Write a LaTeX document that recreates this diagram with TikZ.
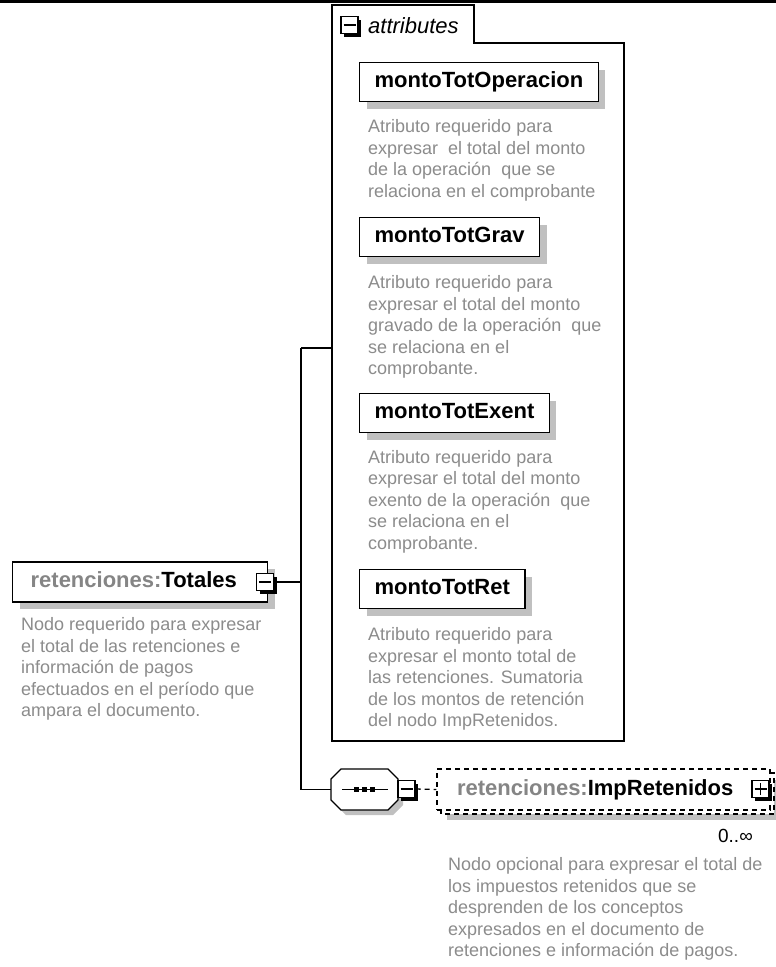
\documentclass[tikz,border=0pt]{standalone}
\usepackage{fontspec}
\setmainfont{Liberation Sans}
\usetikzlibrary{shadows,calc}
\definecolor{prefixgray}{HTML}{858585}
\definecolor{descgray}{HTML}{8C8C8C}
\definecolor{shadowgray}{HTML}{C0C0C0}
\tikzset{
  conn/.style={line width=1.3pt, draw=black},
  dconn/.style={line width=1.3pt, draw=black, dash pattern=on 5pt off 4pt},
  namefont/.style={font=\bfseries\fontsize{22}{26}\selectfont},
  ebox/.style={rectangle, draw=black, line width=1.3pt, fill=white, minimum height=39pt,
     inner xsep=15pt, inner ysep=0pt, text height=16pt, text depth=4.6pt, namefont, text=black,
     drop shadow={shadow xshift=7pt, shadow yshift=-7pt, fill=shadowgray, opacity=1}},
  desc/.style={font=\fontsize{18}{21.5}\selectfont, text=descgray, align=left, anchor=north west, inner sep=0pt},
  iconbox/.style={rectangle, draw=black, line width=1.3pt, fill=white, minimum size=17pt, inner sep=0pt,
     drop shadow={shadow xshift=3pt, shadow yshift=-3pt, fill=black, opacity=1}},
  minusicon/.style={iconbox, path picture={\draw[line width=1.3pt] ([xshift=-6pt]path picture bounding box.center) -- ([xshift=6pt]path picture bounding box.center);}},
  plusicon/.style={iconbox, path picture={\draw[line width=1.3pt] ([xshift=-6pt]path picture bounding box.center) -- ([xshift=6pt]path picture bounding box.center) ([yshift=-6pt]path picture bounding box.center) -- ([yshift=6pt]path picture bounding box.center);}},
  seqarea/.style={rectangle, minimum width=67pt, minimum height=41pt, inner sep=0pt},
}
\begin{document}
\begin{tikzpicture}[x=1pt,y=-1pt]
\useasboundingbox (0,0) rectangle (776,967);
\fill[white] (0,0) rectangle (776,967);
\fill[black] (0,0) rectangle (776,2.6);

% attributes container
\draw[conn] (332,741) -- (332,5) -- (474,5) -- (474,43) -- (624,43) -- (624,741) -- cycle;
\node[minusicon] (attricon) at (349.5,25) {};
\node[font=\itshape\fontsize{22}{26}\selectfont, anchor=base west, inner sep=0pt] (attrlabel) at (368,33.3) {attributes};

% attributes
\node[ebox, anchor=west] (a1) at (359,82) {montoTotOperacion};
\node[desc] (d1) at (368,119.6) {Atributo requerido para\\expresar~ el total del monto\\de la operación~ que se\\relaciona en el comprobante};

\node[ebox, anchor=west] (a2) at (359,237) {montoTotGrav};
\node[desc] (d2) at (368,275.6) {Atributo requerido para\\expresar el total del monto\\gravado de la operación~ que\\se relaciona en el\\comprobante.};

\node[ebox, anchor=west] (a3) at (359,413) {montoTotExent};
\node[desc] (d3) at (368,450.1) {Atributo requerido para\\expresar el total del monto\\exento de la operación~ que\\se relaciona en el\\comprobante.};

\node[ebox, anchor=west] (a4) at (359,589) {montoTotRet};
\node[desc] (d4) at (368,627.6) {Atributo requerido para\\expresar el monto total de\\las retenciones. Sumatoria\\de los montos de retención\\del nodo ImpRetenidos.};

% Totales element
\node[ebox, anchor=west, text width=219pt, align=left, inner xsep=18pt, minimum height=40pt] (tot) at (12,582) {{\color{prefixgray}retenciones:}Totales};
\node[minusicon] (toticon) at (265,582) {};
\node[desc] (totdesc) at (21,617.6) {Nodo requerido para expresar\\el total de las retenciones e\\información de pagos\\efectuados en el período que\\ampara el documento.};

% connectors
\coordinate (jm) at (301,582);
\coordinate (jt) at (301,348);
\coordinate (jb) at (301,789.5);
\coordinate (attrw) at (332,348);
\draw[conn] (toticon.east) -- (jm);
\draw[conn] (jt) -- (jb);
\draw[conn] (jt) -- (attrw);

% sequence (octagon)
\node[seqarea] (seq) at (364.5,789.5) {};
\fill[shadowgray, shift={(5,5)}] (341,769) -- (388,769) -- (398,779) -- (398,800) -- (388,810) -- (341,810) -- (331,800) -- (331,779) -- cycle;
\draw[conn, fill=white] (341,769) -- (388,769) -- (398,779) -- (398,800) -- (388,810) -- (341,810) -- (331,800) -- (331,779) -- cycle;
\draw[conn] (jb) -- (seq.west);
\draw[line width=1.3pt] ([xshift=-22.5pt]seq.center) -- ([xshift=23.5pt]seq.center);
\foreach \dx in {-8,0,8} \fill ([xshift=\dx pt]seq.center) ++(-2.7,-2.7) rectangle ++(5.4,5.4);
\node[minusicon] (seqicon) at (406.5,789) {};

% ImpRetenidos (multiple occurrence)
\fill[shadowgray] (447,780) rectangle (779,820);
\draw[dconn, fill=white] (441,773) rectangle (774,814);
\node[rectangle, dconn, fill=white, minimum height=41pt, text width=293pt, align=left, inner xsep=20pt, inner ysep=0pt,
      text height=16pt, text depth=4.6pt, namefont] (imp) at (603.5,789.5) {{\color{prefixgray}retenciones:}ImpRetenidos};
\node[plusicon] (impicon) at (760.5,789) {};
\draw[dconn] (seqicon.east) -- (imp.west);
\node[anchor=base east, font=\fontsize{19}{21}\selectfont, inner sep=0pt] (occ) at (753,842) {0..∞};
\node[desc] (impdesc) at (448,857.6) {Nodo opcional para expresar el total de\\los impuestos retenidos que se\\desprenden de los conceptos\\expresados en el documento de\\retenciones e información de pagos.};
\end{tikzpicture}
\end{document}
